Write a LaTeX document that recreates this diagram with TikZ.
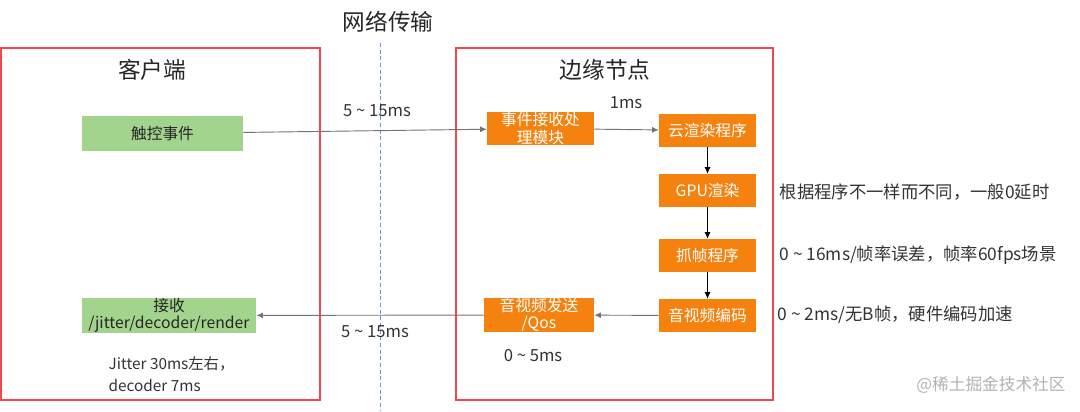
\documentclass[tikz,border=0pt]{standalone}
\usepackage{fontspec}
\setmainfont{Noto Sans CJK SC}
\usetikzlibrary{arrows.meta}
\definecolor{frame}{HTML}{F0484D}
\definecolor{orng}{HTML}{F5820F}
\definecolor{grn}{HTML}{A3D48D}
\definecolor{txt}{HTML}{333333}
\definecolor{net}{HTML}{6F8FE0}
\begin{document}
\begin{tikzpicture}[x=0.75pt, y=-0.75pt, >={Latex[length=5pt, width=4.5pt]},
        greenbox/.style={fill=grn, text=black!85, align=center, inner sep=0pt, font=\fontsize{11.8}{13}\selectfont},
        orangebox/.style={fill=orng, text=white, align=center, inner sep=0pt, font=\fontsize{11.8}{13}\selectfont},
        title/.style={text=black!85, font=\fontsize{17}{20}\selectfont},
        lbl/.style={text=txt, font=\fontsize{12.5}{14}\selectfont},
        note/.style={text=txt, anchor=west, font=\fontsize{13}{15}\selectfont}]
        \useasboundingbox (0,0) rectangle (1080,411);
        % frames and network line
        \draw[frame, line width=1.1pt] (1,48) rectangle (320,400);
        \draw[frame, line width=1.1pt] (456,48) rectangle (773,400);
        \draw[net, densely dashed, line width=0.4pt] (380,43) -- (380,411);
        \node[title] (nettitle) at (388,22) {网络传输};
        \node[title] (clienttitle) at (152,70) {客户端};
        \node[title] (edgetitle) at (605,70) {边缘节点};
        % client side
        \node[greenbox, minimum width=120.75pt, minimum height=26.25pt] (touch) at (162.5,133.5) {触控事件};
        \node[greenbox, minimum width=130.5pt, minimum height=26.25pt] (recv) at (169,315.5) {接收\\/jitter/decoder/render};
        % edge node
        \node[orangebox, minimum width=80.25pt, minimum height=24.75pt] (evproc) at (540.5,128.5) {事件接收处\\理模块};
        \node[orangebox, minimum width=72.75pt, minimum height=24.75pt] (render) at (707.5,130.5) {云渲染程序};
        \node[orangebox, minimum width=72.75pt, minimum height=24.75pt] (gpu) at (707.5,190.5) {GPU渲染};
        \node[orangebox, minimum width=72.75pt, minimum height=24.75pt] (grab) at (707.5,255.5) {抓帧程序};
        \node[orangebox, minimum width=72.75pt, minimum height=24.75pt] (encode) at (707.5,315.5) {音视频编码};
        \node[orangebox, minimum width=82.5pt, minimum height=25.5pt] (send) at (539,315) {音视频发送\\/Qos};
        % connectors
        \draw[->, black!55, line width=0.7pt] (touch) -- (evproc);
        \draw[->, black!55, line width=0.7pt] (evproc) -- (render);
        \draw[->, black, line width=0.6pt] (render) -- (gpu);
        \draw[->, black, line width=0.6pt] (gpu) -- (grab);
        \draw[->, black, line width=0.6pt] (grab) -- (encode);
        \draw[->, black!55, line width=0.7pt] (encode) -- (send);
        \draw[->, black!55, line width=0.7pt] (send) -- (recv);
        % labels
        \node[lbl] (upnet) at (377,111) {5 \textasciitilde{} 15ms};
        \node[lbl] (onems) at (626,103) {1ms};
        \node[lbl] (downnet) at (375,332) {5 \textasciitilde{} 15ms};
        \node[lbl] (sendms) at (533,356) {0 \textasciitilde{} 5ms};
        \node[lbl, anchor=west, align=left, font=\fontsize{11.5}{17}\selectfont] (jitter) at (104,374) {Jitter 30ms左右，\\decoder 7ms};
        \node[note] (gpunote) at (775,192) {根据程序不一样而不同，一般0延时};
        \node[note] (grabnote) at (775,255) {0 \textasciitilde{} 16ms/帧率误差，帧率60fps场景};
        \node[note] (encnote) at (773,315) {0 \textasciitilde{} 2ms/无B帧，硬件编码加速};
        \node[text=black!30, font=\fontsize{12.5}{14}\selectfont] (mark) at (991,385) {@稀土掘金技术社区};
    \end{tikzpicture}
\end{document}
